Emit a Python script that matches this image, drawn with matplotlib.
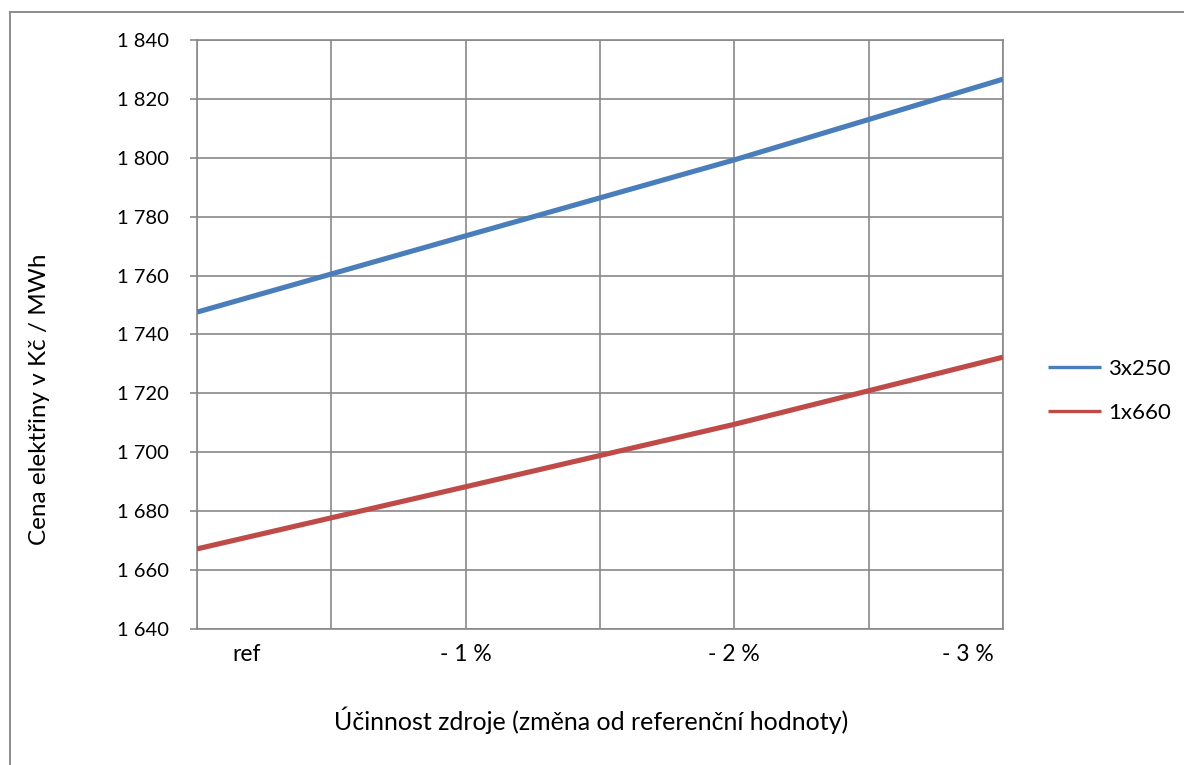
import matplotlib
matplotlib.use("Agg")
import matplotlib.pyplot as plt
import matplotlib.transforms as mtransforms
from matplotlib.patches import Rectangle
from matplotlib.ticker import FuncFormatter, MultipleLocator
import numpy as np

plt.rcParams['font.family'] = ['Lato', 'DejaVu Sans']

# Efficiency scenarios and resulting electricity prices (CZK/MWh)
categories = ['ref', '- 1 %', '- 2 %', '- 3 %']
series_names = ['3x250', '1x660']
price_3x250 = [1747.6, 1773.5, 1799.3, 1826.7]
price_1x660 = [1667.2, 1688.3, 1709.5, 1732.3]

blue = '#4A7EBB'
red = '#BE4B48'
grid_gray = '#898989'

fig = plt.figure(figsize=(11.84, 7.65), dpi=100)
ax = fig.add_axes([0.1664, 0.1778, 0.6807, 0.7699])

# chart area frame
fig.patches.append(Rectangle((10 / 1184, -0.05), 1.2, 1 - 12 / 765 + 0.05,
                             transform=fig.transFigure, fill=False,
                             edgecolor='#8c8c8c', linewidth=1.4, zorder=0))

x = np.arange(len(categories))
ax.plot(x, price_3x250, color=blue, lw=3.7, label=series_names[0],
        solid_capstyle='butt', zorder=3)
ax.plot(x, price_1x660, color=red, lw=3.7, label=series_names[1],
        solid_capstyle='butt', zorder=3)

ax.set_xlim(0, len(categories) - 1)
ax.set_ylim(1640, 1840)
ax.yaxis.set_major_locator(MultipleLocator(20))
ax.yaxis.set_major_formatter(
    FuncFormatter(lambda v, p: f"{int(v):,}".replace(',', ' ')))

ax.set_xticks(x)
ax.set_xticks(x[:-1] + 0.5, minor=True)
ax.set_xticklabels(categories)
ax.grid(True, which='both', color=grid_gray, lw=1.2)
ax.set_axisbelow(True)

ax.tick_params(axis='y', length=5, width=1.2, color=grid_gray, pad=15,
               labelsize=14.5)
ax.tick_params(axis='x', which='both', length=0, pad=11, labelsize=16.5)

# keep the end labels inside the plot width
labels = ax.get_xticklabels()
labels[0].set_transform(labels[0].get_transform() +
                        mtransforms.ScaledTranslation(50 / 100, 0, fig.dpi_scale_trans))
labels[-1].set_transform(labels[-1].get_transform() +
                         mtransforms.ScaledTranslation(-35 / 100, 0, fig.dpi_scale_trans))

for s in ax.spines.values():
    s.set_color(grid_gray)
    s.set_linewidth(1.2)

ax.set_ylabel('Cena elektřiny v Kč / MWh', fontsize=17.5)
ax.yaxis.set_label_coords(-0.183, 0.39)
ax.set_xlabel('Účinnost zdroje (změna od referenční hodnoty)', fontsize=18)
ax.xaxis.set_label_coords(0.489, -0.131)

leg = ax.legend(loc='center left', bbox_to_anchor=(1.045, 0.404), frameon=False,
                fontsize=16, handlelength=2.4, handletextpad=0.3,
                labelspacing=1.1, borderaxespad=0)
for h in leg.get_lines():
    h.set_linewidth(2.4)

fig.savefig('out.png', dpi=100)
